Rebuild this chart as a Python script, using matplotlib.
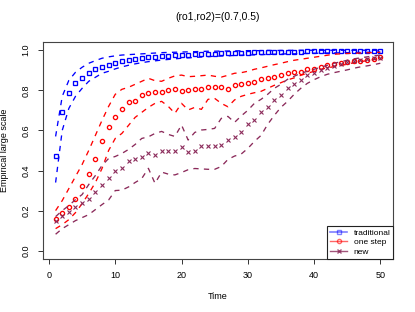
import numpy as np
import matplotlib
matplotlib.use('Agg')
import matplotlib.pyplot as plt
from matplotlib.lines import Line2D

plt.rcParams['font.family'] = ['Liberation Sans', 'DejaVu Sans']

time = np.arange(1, 51)

trad_mid = [0.47, 0.69, 0.785, 0.835, 0.86, 0.885, 0.905, 0.918, 0.928, 0.938,
            0.945, 0.951, 0.956, 0.96, 0.964, 0.967, 0.97, 0.972, 0.974, 0.976,
            0.977, 0.979, 0.98, 0.982, 0.983, 0.984, 0.985, 0.986, 0.987, 0.988,
            0.989, 0.99, 0.99, 0.991, 0.992, 0.992, 0.993, 0.993, 0.994, 0.994,
            0.995, 0.995, 0.996, 0.996, 0.997, 0.997, 0.997, 0.998, 0.998, 0.998]
trad_up = [0.57, 0.77, 0.85, 0.89, 0.915, 0.935, 0.948, 0.96, 0.967, 0.972,
           0.976, 0.978, 0.98, 0.982, 0.984, 0.986, 0.988, 0.989, 0.99, 0.991,
           0.992, 0.993, 0.994, 0.995, 0.995, 0.996, 0.996, 0.997, 0.997, 0.998,
           0.998, 0.998, 0.999, 0.999, 0.999, 0.999, 1.0, 1.0, 1.0, 1.0,
           1.0, 1.0, 1.0, 1.0, 1.0, 1.0, 1.0, 1.0, 1.0, 1.0]
trad_lo = [0.34, 0.6, 0.71, 0.77, 0.81, 0.845, 0.865, 0.885, 0.895, 0.907,
           0.917, 0.925, 0.932, 0.938, 0.943, 0.947, 0.951, 0.954, 0.957, 0.96,
           0.962, 0.964, 0.966, 0.968, 0.97, 0.971, 0.972, 0.974, 0.975, 0.976,
           0.977, 0.978, 0.979, 0.98, 0.981, 0.982, 0.982, 0.983, 0.984, 0.985,
           0.985, 0.986, 0.987, 0.987, 0.988, 0.989, 0.989, 0.99, 0.99, 0.991]

one_mid = [0.157, 0.19, 0.216, 0.258, 0.323, 0.384, 0.459, 0.546, 0.618, 0.668,
           0.707, 0.74, 0.749, 0.777, 0.785, 0.79, 0.793, 0.801, 0.805, 0.798,
           0.80, 0.805, 0.805, 0.816, 0.817, 0.815, 0.806, 0.826, 0.833, 0.835,
           0.844, 0.855, 0.86, 0.868, 0.876, 0.885, 0.89, 0.892, 0.906, 0.906,
           0.918, 0.925, 0.93, 0.938, 0.943, 0.946, 0.948, 0.952, 0.958, 0.964]
one_up = [0.20, 0.25, 0.31, 0.37, 0.43, 0.50, 0.575, 0.65, 0.72, 0.78,
          0.805, 0.815, 0.83, 0.845, 0.86, 0.848, 0.845, 0.86, 0.872, 0.876,
          0.868, 0.87, 0.873, 0.876, 0.87, 0.866, 0.875, 0.885, 0.888, 0.895,
          0.905, 0.912, 0.92, 0.928, 0.935, 0.943, 0.95, 0.955, 0.96, 0.965,
          0.97, 0.975, 0.98, 0.982, 0.984, 0.985, 0.986, 0.987, 0.988, 0.99]
one_lo = [0.11, 0.13, 0.155, 0.19, 0.235, 0.285, 0.34, 0.41, 0.50, 0.56,
          0.585, 0.625, 0.665, 0.69, 0.715, 0.735, 0.745, 0.72, 0.685, 0.735,
          0.702, 0.715, 0.705, 0.755, 0.76, 0.735, 0.718, 0.752, 0.77, 0.78,
          0.788, 0.795, 0.81, 0.825, 0.838, 0.852, 0.862, 0.875, 0.885, 0.895,
          0.905, 0.912, 0.918, 0.924, 0.93, 0.938, 0.943, 0.948, 0.953, 0.958]

new_mid = [0.148, 0.173, 0.195, 0.22, 0.24, 0.258, 0.294, 0.328, 0.361, 0.397,
           0.411, 0.447, 0.459, 0.466, 0.489, 0.477, 0.499, 0.497, 0.499, 0.516,
           0.492, 0.497, 0.522, 0.522, 0.522, 0.527, 0.551, 0.569, 0.594, 0.631,
           0.652, 0.693, 0.715, 0.75, 0.777, 0.81, 0.83, 0.853, 0.874, 0.888,
           0.9, 0.91, 0.922, 0.932, 0.939, 0.947, 0.953, 0.957, 0.96, 0.963]
new_up = [0.17, 0.2, 0.225, 0.255, 0.28, 0.33, 0.375, 0.425, 0.46, 0.47,
          0.485, 0.505, 0.53, 0.56, 0.568, 0.585, 0.595, 0.58, 0.57, 0.627,
          0.552, 0.59, 0.602, 0.605, 0.61, 0.66, 0.67, 0.64, 0.672, 0.70,
          0.735, 0.755, 0.78, 0.81, 0.83, 0.855, 0.87, 0.885, 0.895, 0.905,
          0.915, 0.925, 0.935, 0.942, 0.95, 0.957, 0.962, 0.967, 0.972, 0.976]
new_lo = [0.082, 0.11, 0.13, 0.15, 0.165, 0.18, 0.205, 0.23, 0.253, 0.3,
          0.302, 0.318, 0.34, 0.36, 0.411, 0.336, 0.392, 0.382, 0.378, 0.39,
          0.404, 0.41, 0.408, 0.406, 0.406, 0.42, 0.455, 0.472, 0.482, 0.51,
          0.545, 0.575, 0.63, 0.675, 0.715, 0.745, 0.78, 0.81, 0.835, 0.853,
          0.868, 0.88, 0.888, 0.895, 0.902, 0.91, 0.917, 0.922, 0.928, 0.935]

blue = '#0000FF'
red = '#FF0000'
plum = '#8B2A5A'
dash = (0, (4, 4))


def draw_group(ax, mid, up, lo, color, marker):
    ax.plot(time, up, color=color, lw=0.95, linestyle=dash)
    ax.plot(time, lo, color=color, lw=0.95, linestyle=dash)
    if marker == 'x':
        ax.plot(time, mid, linestyle='none', marker='x', color=color,
                markersize=3.0, markeredgewidth=0.8)
    else:
        ax.plot(time, mid, linestyle='none', marker=marker, color=color,
                markerfacecolor='none', markersize=3.0, markeredgewidth=0.95)


fig = plt.figure(figsize=(4.15, 3.12), dpi=100)
ax = fig.add_axes([0.1027, 0.1708, 0.845, 0.6939])

draw_group(ax, trad_mid, trad_up, trad_lo, blue, 's')
draw_group(ax, one_mid, one_up, one_lo, red, 'o')
draw_group(ax, new_mid, new_up, new_lo, plum, 'x')

ax.set_xlim(-0.96, 51.96)
ax.set_ylim(-0.04, 1.04)
ax.set_xticks([0, 10, 20, 30, 40, 50])
ax.set_yticks([0.0, 0.2, 0.4, 0.6, 0.8, 1.0])
ax.set_yticklabels(['0.0', '0.2', '0.4', '0.6', '0.8', '1.0'], rotation=90, va='center')
ax.tick_params(labelsize=6.5, length=3.6, width=0.7, pad=5, colors='#333333',
               labelcolor='black')
for s in ax.spines.values():
    s.set_linewidth(0.8)
    s.set_color('#444444')

ax.set_xlabel('Time', fontsize=6.5, labelpad=9)
ax.set_ylabel('Empirical large scale', fontsize=6.5, labelpad=9)
ax.set_title('(ro1,ro2)=(0.7,0.5)', fontsize=7.5, pad=16)

handles = [
    Line2D([], [], color=blue, alpha=0.5, lw=1.2, marker='s', markersize=3.0,
           markerfacecolor='none'),
    Line2D([], [], color=red, alpha=0.6, lw=1.0, marker='o', markersize=3.0,
           markerfacecolor='none'),
    Line2D([], [], color=plum, alpha=0.8, lw=1.0, marker='x', markersize=3.0),
]
leg = ax.legend(handles, ['traditional', 'one step', 'new'], loc='lower right',
                fontsize=6, frameon=True, fancybox=False, edgecolor='#222222',
                framealpha=1, borderaxespad=0, handlelength=2.0,
                handletextpad=0.8, labelspacing=0.2, borderpad=0.35)
leg.get_frame().set_linewidth(0.8)

fig.savefig('out.png', dpi=100)
